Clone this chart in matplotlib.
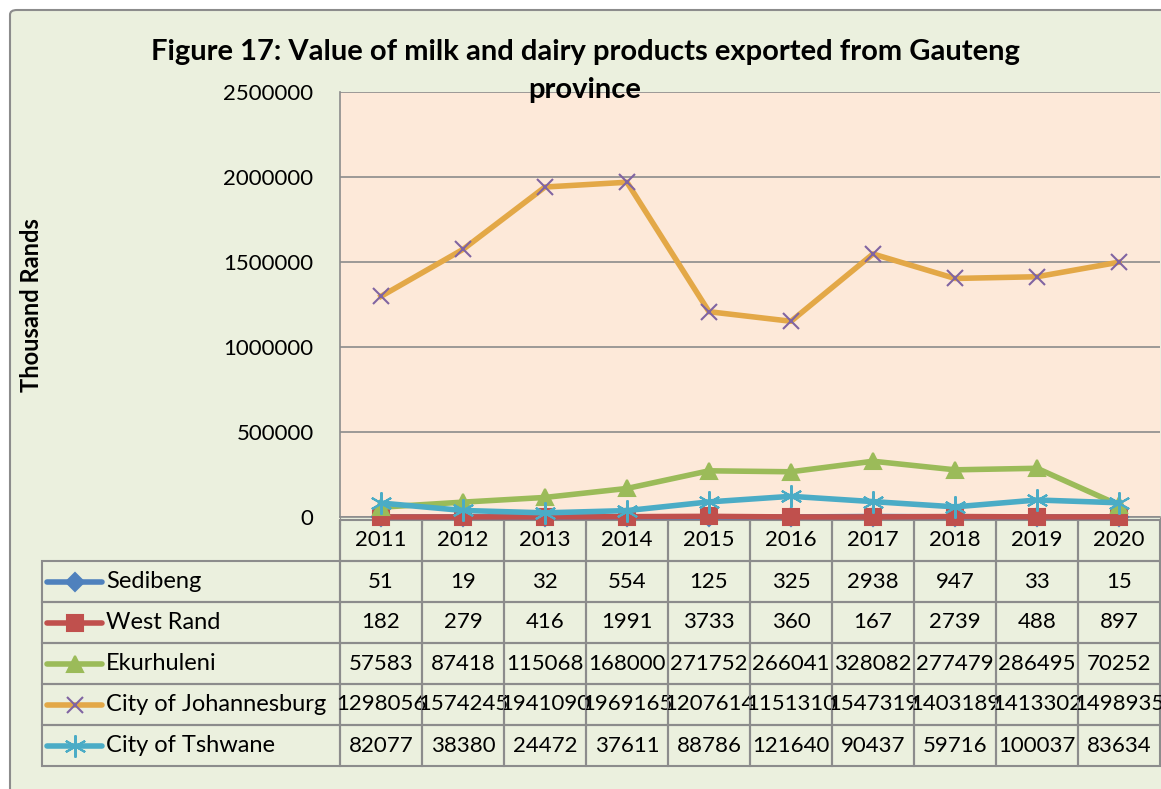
import numpy as np
import matplotlib.pyplot as plt
from matplotlib.patches import FancyBboxPatch

plt.rcParams['font.family'] = ['Lato', 'DejaVu Sans']

years = ['2011', '2012', '2013', '2014', '2015', '2016', '2017', '2018', '2019', '2020']
names = ['Sedibeng', 'West Rand', 'Ekurhuleni', 'City of Johannesburg', 'City of Tshwane']
sedibeng = [51, 19, 32, 554, 125, 325, 2938, 947, 33, 15]
west_rand = [182, 279, 416, 1991, 3733, 360, 167, 2739, 488, 897]
ekurhuleni = [57583, 87418, 115068, 168000, 271752, 266041, 328082, 277479, 286495, 70252]
johannesburg = [1298056, 1574245, 1941090, 1969165, 1207614, 1151310, 1547319, 1403189, 1413302, 1498935]
tshwane = [82077, 38380, 24472, 37611, 88786, 121640, 90437, 59716, 100037, 83634]

series = [sedibeng, west_rand, ekurhuleni, johannesburg, tshwane]
line_colors = ['#4F81BD', '#C0504D', '#9BBB59', '#E3A847', '#4BACC6']
marker_colors = ['#4F81BD', '#C0504D', '#9BBB59', '#8064A2', '#4BACC6']
markers = ['D', 's', '^', 'x', '*']
msizes = [9, 12, 12, 12, 12]

W, H = 1161, 789
fig = plt.figure(figsize=(W / 100, H / 100), dpi=100, facecolor='white')

# outer chart area frame
frame = FancyBboxPatch((10 / W, -0.02), 1.2, 1 - 10 / H + 0.02, boxstyle='round,pad=0,rounding_size=0.006',
                       transform=fig.transFigure, facecolor='#EBF0DE', edgecolor='#8C8C8C', lw=1.5, zorder=-5)
fig.patches.append(frame)

ax = fig.add_axes([340 / W, 1 - 517 / H, 820 / W, 425 / H])
ax.set_facecolor('#FDE9D9')
ind = np.arange(len(years))

for vals, lc, mc, m, ms in zip(series, line_colors, marker_colors, markers, msizes):
    if m == '*':
        ax.plot(ind, vals, color=lc, lw=4, zorder=3)
        ax.plot(ind, vals, ls='none', marker=(6, 2, 0), ms=ms + 4, mec=mc, mew=1.5, zorder=4, clip_on=False)
    else:
        ax.plot(ind, vals, color=lc, lw=4, marker=m, ms=ms, mfc=mc, mec=mc, mew=1.5, zorder=3, clip_on=False)

ax.set_xlim(-0.5, 9.5)
ax.set_ylim(0, 2500000)
ax.set_yticks(np.arange(0, 2500001, 500000))
ax.set_yticklabels([str(v) for v in range(0, 2500001, 500000)], fontsize=16)
ax.tick_params(axis='y', length=0, pad=19)
ax.set_xticks(np.arange(-0.5, 10, 1))
ax.set_xticklabels([])
ax.tick_params(axis='x', length=6, color='#8C8C8C')
ax.grid(axis='y', color='#8C8C8C', lw=1.2)
ax.set_axisbelow(True)
for s in ['top', 'right']:
    ax.spines[s].set_visible(False)
for s in ['left', 'bottom']:
    ax.spines[s].set_color('#8C8C8C')
    ax.spines[s].set_linewidth(1.2)

# data table under the chart: first column holds the series names
cell_text = [[n] + [str(v) for v in vals] for n, vals in zip(names, series)]
tx0 = (42 - 340) / 820
tw = (1160 - 42) / 820
ty1 = -3 / 425
th = (766 - 520) / 425
lab_w = (340 - 42) / 820
tbl = ax.table(cellText=cell_text, colLabels=[''] + years,
               colWidths=[lab_w] + [0.1] * 10, cellLoc='center',
               bbox=[tx0, ty1 - th, tw, th])
tbl.auto_set_font_size(False)
tbl.set_fontsize(16)
for (r, c), cell in tbl.get_celld().items():
    cell.set_facecolor('none')
    cell.set_edgecolor('#8C8C8C')
    cell.set_linewidth(1.5)
    if c == 0:
        cell.get_text().set_ha('left')
        cell.get_text().set_fontsize(17)
        cell.PAD = 0.215
        if r == 0:
            cell.visible_edges = 'R'

# legend keys inside the name cells
rh = th / 6
for i, (lc, mc, m, ms) in enumerate(zip(line_colors, marker_colors, markers, msizes)):
    yc = ty1 - (i + 1.5) * rh
    ax.plot([(47 - 340) / 820, (102 - 340) / 820], [yc, yc], color=lc, lw=4,
            transform=ax.transAxes, clip_on=False, solid_capstyle='round')
    if m == '*':
        ax.plot([(75 - 340) / 820], [yc], ls='none', marker=(6, 2, 0), ms=ms + 4, mec=mc, mew=1.5,
                transform=ax.transAxes, clip_on=False)
    else:
        ax.plot([(75 - 340) / 820], [yc], ls='none', marker=m, ms=ms, mfc=mc, mec=mc, mew=1.5,
                transform=ax.transAxes, clip_on=False)

fig.text(585 / W, 1 - 52 / H, 'Figure 17: Value of milk and dairy products exported from Gauteng',
         ha='center', va='center', fontsize=21, fontweight='bold')
fig.text(585 / W, 1 - 90 / H, 'province', ha='center', va='center', fontsize=21, fontweight='bold')
fig.text(32 / W, 1 - 305 / H, 'Thousand Rands', rotation=90, ha='center', va='center',
         fontsize=17, fontweight='bold')

fig.savefig('out.png', dpi=100, facecolor='white')
